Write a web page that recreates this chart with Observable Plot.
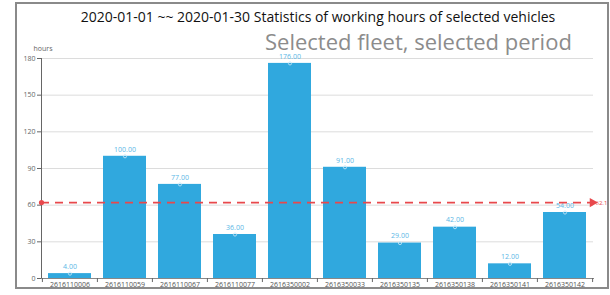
<!DOCTYPE html>
<html><head><meta charset="utf-8">
<script src="https://cdn.jsdelivr.net/npm/d3@7"></script>
<script src="https://cdn.jsdelivr.net/npm/@observablehq/plot@0.6"></script>
<style>
html,body{margin:0;padding:0;background:#fff;}
#wrap{position:relative;width:610px;height:295px;overflow:hidden;font-family:"Open Sans","Noto Sans",sans-serif;}
#frame{position:absolute;left:15px;top:2px;width:594px;height:287px;border:2px solid #8a8a8a;box-sizing:border-box;pointer-events:none;}
#title{position:absolute;left:0;width:636px;top:7px;text-align:center;font-size:14px;color:#111;white-space:nowrap;}
#subtitle{position:absolute;left:265px;top:26px;font-size:22px;color:#8c8c8c;white-space:nowrap;}
#chart{position:absolute;left:0;top:0;}
#chart svg{overflow:visible;}
</style></head>
<body><div id="wrap"><div id="chart"></div><div id="frame"></div><div id="title"></div><div id="subtitle"></div></div>
<script>
const titleText = "2020-01-01 ~~ 2020-01-30 Statistics of working hours of selected vehicles";
const subtitleText = "Selected fleet, selected period";
const yLabel = "hours";
const vehicles = ["2616110006","2616110059","2616110067","2616110077","2616350002","2616350033","2616350135","2616350138","2616350141","2616350142"];
const hours = [4, 100, 77, 36, 176, 91, 29, 42, 12, 54];
const meanValue = 62.1;
const yTicks = [0, 30, 60, 90, 120, 150, 180];

document.getElementById("title").textContent = titleText;
document.getElementById("subtitle").textContent = subtitleText;

const data = vehicles.map((v, i) => ({vehicle: v, hours: hours[i]}));
const W = 610, mL = 41, mR = 17;
const half = (W - mL - mR) / vehicles.length / 2;
const barColor = "#30a8de";
const labelColor = "#5ab7e6";
const red = "#e8484c";

const chart = Plot.plot({
  width: W, height: 295,
  marginLeft: mL, marginRight: mR, marginTop: 58, marginBottom: 17,
  style: {fontFamily: "'Open Sans','Noto Sans',sans-serif", fontSize: "7px", background: "transparent", overflow: "visible"},
  x: {domain: vehicles, paddingInner: 0.21, paddingOuter: 0.105},
  y: {domain: [0, 180]},
  marks: [
    Plot.gridY(yTicks, {stroke: "#dcdcdc", strokeOpacity: 1}),
    Plot.axisY(yTicks, {tickSize: 4, tickPadding: 2, fill: "#666", stroke: "#666", label: null}),
    Plot.axisX({tickSize: 0, tickPadding: 3.5, fill: "#555", label: null}),
    Plot.barY(data, {x: "vehicle", y: "hours", fill: barColor}),
    Plot.dot(data, {x: "vehicle", y: "hours", r: 1.6, stroke: "#cde9f7", strokeWidth: 0.8, fill: "none"}),
    Plot.text(data, {x: "vehicle", y: "hours", text: d => d.hours.toFixed(2), dy: -7, fill: labelColor, fontSize: 7}),
    Plot.frame({anchor: "left", stroke: "#666"}),
    Plot.frame({anchor: "bottom", stroke: "#888"}),
    Plot.ruleX(vehicles, {x: d => d, dx: -half, y1: 0, y2: -3.3, stroke: "#666"}),
    Plot.ruleX([vehicles[vehicles.length - 1]], {x: d => d, dx: half, y1: 0, y2: -3.3, stroke: "#666"}),
    Plot.ruleY([meanValue], {stroke: red, strokeWidth: 1.8, strokeDasharray: "8,6"}),
    Plot.dot([meanValue], {y: d => d, frameAnchor: "left", r: 2.6, fill: red}),
    Plot.dot([meanValue], {y: d => d, frameAnchor: "right", symbol: "triangle", rotate: 90, r: 3.5, fill: red, dx: -1}),
    Plot.text([meanValue], {y: d => d, frameAnchor: "right", text: d => String(d), dx: 2, textAnchor: "start", fill: red, fontSize: 6}),
    Plot.text([yLabel], {frameAnchor: "top-left", text: d => d, dx: -8, dy: -12, fill: "#666", fontSize: 7})
  ]
});
document.getElementById("chart").append(chart);
</script>
</body></html>
